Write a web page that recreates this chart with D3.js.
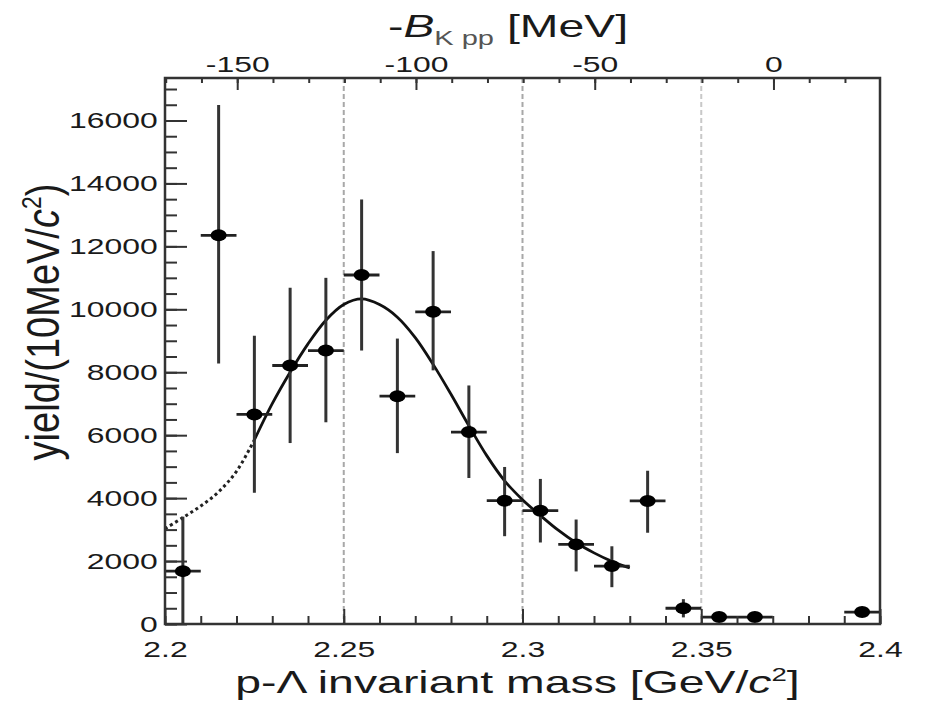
<!DOCTYPE html>
<html>
<head>
<meta charset="utf-8">
<script src="https://cdn.jsdelivr.net/npm/d3@7"></script>
<style>
  body { margin: 0; background: #fff; }
  svg { display: block; font-family: "Liberation Sans", Arial, sans-serif; }
</style>
</head>
<body>
<svg id="chart" width="934" height="702"></svg>
<script>
// measured bins (p-Lambda invariant mass, GeV/c^2)
const mass = [2.205, 2.215, 2.225, 2.235, 2.245, 2.255, 2.265, 2.275, 2.285,
    2.295, 2.305, 2.315, 2.325, 2.335, 2.345, 2.355, 2.365, 2.395];
const yieldVal = [1680, 12350, 6660, 8215, 8690, 11090, 7240, 9920, 6100,
    3920, 3600, 2530, 1840, 3910, 500, 220, 220, 380];
const errUp = [1730, 4140, 2500, 2470, 2310, 2400, 1830, 1930, 1480,
    1070, 1010, 790, 630, 960, 290, 150, 150, 150];
const errDown = [1680, 4070, 2490, 2465, 2280, 2400, 1810, 1860, 1460,
    1130, 1010, 860, 670, 1010, 290, 150, 150, 150];
const binHalf = 0.005;

// fit curve
const fitMass = [2.200, 2.205, 2.210, 2.215, 2.220, 2.225, 2.230, 2.235, 2.240,
    2.245, 2.250, 2.255, 2.260, 2.265, 2.270, 2.275, 2.280, 2.285, 2.290,
    2.295, 2.300, 2.305, 2.310, 2.315, 2.320, 2.325, 2.330];
const fitYield = [3030, 3380, 3750, 4200, 4850, 5850, 7000, 8000, 8900,
    9650, 10150, 10330, 10150, 9750, 9100, 8250, 7300, 6300, 5350,
    4550, 3950, 3450, 2980, 2580, 2260, 1990, 1780];
const fitDottedUntil = 2.225;

// axes
const massTicks = [2.2, 2.25, 2.3, 2.35, 2.4];
const massLabels = ["2.2", "2.25", "2.3", "2.35", "2.4"];
const bindTicks = [-150, -100, -50, 0];
const bindLabels = ["-150", "-100", "-50", "0"];
const yieldTicks = [0, 2000, 4000, 6000, 8000, 10000, 12000, 14000, 16000];
const refLines = [2.25, 2.30, 2.35];
const kppThreshold = 2.3702; // K- + p + p mass, GeV

const plotLeft = 165, plotRight = 880, plotTop = 78, plotBottom = 624;
const stretch = 1.45; // the scanned figure is wider than tall

const svg = d3.select("#chart");

const x = d3.scaleLinear().domain([2.2, 2.4]).range([plotLeft, plotRight]);
const xTop = d3.scaleLinear()
    .domain([(2.2 - kppThreshold) * 1000, (2.4 - kppThreshold) * 1000])
    .range([plotLeft, plotRight]);
const y = d3.scaleLinear().domain([0, 17350]).range([plotBottom, plotTop]);

// dashed reference lines
svg.append("g").selectAll("line")
    .data(refLines)
    .join("line")
    .attr("x1", d => x(d)).attr("x2", d => x(d))
    .attr("y1", plotTop).attr("y2", plotBottom)
    .attr("stroke", (d, i) => i == 2 ? "#c8c8c8" : "#a8a8a8")
    .attr("stroke-width", 2)
    .attr("stroke-dasharray", "5,3");

// fit curve, dotted below the fit range
let fit = fitMass.map((m, i) => ({m: m, v: fitYield[i]}));
let line = d3.line().x(d => x(d.m)).y(d => y(d.v)).curve(d3.curveCatmullRom);

svg.append("path")
    .datum(fit.filter(d => d.m <= fitDottedUntil))
    .attr("d", line)
    .attr("fill", "none")
    .attr("stroke", "#222")
    .attr("stroke-width", 3)
    .attr("stroke-dasharray", "3,3");

svg.append("path")
    .datum(fit.filter(d => d.m >= fitDottedUntil))
    .attr("d", line)
    .attr("fill", "none")
    .attr("stroke", "#111")
    .attr("stroke-width", 2.8);

// data points with error bars
let points = mass.map((m, i) => ({m: m, v: yieldVal[i], up: errUp[i], down: errDown[i]}));
let pg = svg.append("g").selectAll("g")
    .data(points)
    .join("g");

pg.append("line")
    .attr("x1", d => x(d.m)).attr("x2", d => x(d.m))
    .attr("y1", d => y(d.v + d.up)).attr("y2", d => y(Math.max(0, d.v - d.down)))
    .attr("stroke", "#333")
    .attr("stroke-width", 3);

pg.append("line")
    .attr("x1", d => x(d.m - binHalf)).attr("x2", d => x(d.m + binHalf))
    .attr("y1", d => y(d.v)).attr("y2", d => y(d.v))
    .attr("stroke", "#222")
    .attr("stroke-width", 2.8);

pg.append("ellipse")
    .attr("cx", d => x(d.m)).attr("cy", d => y(d.v))
    .attr("rx", 8).attr("ry", 6)
    .attr("fill", "#000");

// frame
svg.append("rect")
    .attr("x", plotLeft).attr("y", plotTop)
    .attr("width", plotRight - plotLeft).attr("height", plotBottom - plotTop)
    .attr("fill", "none")
    .attr("stroke", "#333")
    .attr("stroke-width", 2.5);

function styleAxis(g) {
    g.select(".domain").remove();
    g.selectAll("line").attr("stroke", "#333").attr("stroke-width", 2);
    g.selectAll("text")
        .attr("fill", "#1a1a1a")
        .style("font-size", "22px")
        .attr("transform", "scale(" + stretch + ",1)");
}

// bottom axis
svg.append("g")
    .attr("transform", "translate(0," + plotBottom + ")")
    .call(d3.axisBottom(x).tickValues(d3.range(2.2, 2.4001, 0.01)).tickSize(-8).tickFormat(""))
    .call(styleAxis);
svg.append("g")
    .attr("transform", "translate(0," + plotBottom + ")")
    .call(d3.axisBottom(x).tickValues(massTicks).tickSize(-15).tickSizeOuter(0)
        .tickPadding(17).tickFormat((d, i) => massLabels[i]))
    .call(styleAxis);

// left axis
svg.append("g")
    .attr("transform", "translate(" + plotLeft + ",0)")
    .call(d3.axisLeft(y).tickValues(d3.range(0, 17300, 500)).tickSize(-12).tickFormat(""))
    .call(styleAxis);
svg.append("g")
    .attr("transform", "translate(" + plotLeft + ",0)")
    .call(d3.axisLeft(y).tickValues(yieldTicks).tickSize(-22).tickSizeOuter(0)
        .tickPadding(5).tickFormat(d => String(d)))
    .call(styleAxis);

// top axis (binding energy)
svg.append("g")
    .attr("transform", "translate(0," + plotTop + ")")
    .call(d3.axisTop(xTop).tickValues(d3.range(-170, 30, 10)).tickSize(-5).tickFormat(""))
    .call(styleAxis);
svg.append("g")
    .attr("transform", "translate(0," + plotTop + ")")
    .call(d3.axisTop(xTop).tickValues(bindTicks).tickSize(-12).tickSizeOuter(0)
        .tickPadding(6).tickFormat((d, i) => bindLabels[i]))
    .call(styleAxis);

// titles
let xt = svg.append("text")
    .attr("transform", "translate(" + ((plotLeft + plotRight) / 2 - 5) + ",693) scale(" + stretch + ",1)")
    .attr("text-anchor", "middle")
    .style("font-size", "32px")
    .attr("fill", "#1a1a1a");
xt.append("tspan").text("p-Λ invariant mass [GeV/");
xt.append("tspan").style("font-style", "italic").text("c");
xt.append("tspan").attr("dy", -12).style("font-size", "19px").text("2");
xt.append("tspan").attr("dy", 12).text("]");

let tt = svg.append("text")
    .attr("transform", "translate(508,37) scale(" + stretch + ",1)")
    .attr("text-anchor", "middle")
    .style("font-size", "32px")
    .attr("fill", "#1a1a1a");
tt.append("tspan").text("-");
tt.append("tspan").style("font-style", "italic").text("B");
tt.append("tspan").attr("dy", 8).style("font-size", "20px").attr("fill", "#555").text("K pp");
tt.append("tspan").attr("dy", -8).text(" [MeV]");

let yt = svg.append("text")
    .attr("transform", "translate(59,322) scale(1.2,1) rotate(-90)")
    .attr("text-anchor", "middle")
    .style("font-size", "38px")
    .attr("fill", "#1a1a1a");
yt.append("tspan").text("yield/(10MeV/");
yt.append("tspan").style("font-style", "italic").text("c");
yt.append("tspan").attr("dy", -15).style("font-size", "23px").text("2");
yt.append("tspan").attr("dy", 15).text(")");
</script>
</body>
</html>
